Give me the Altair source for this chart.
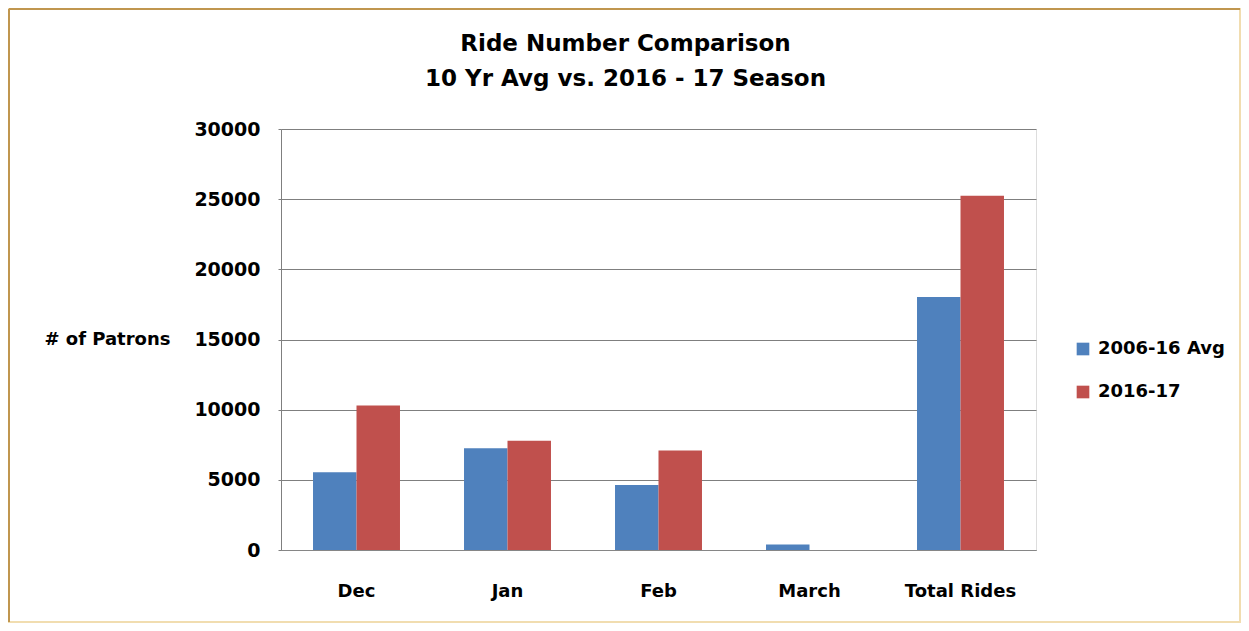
import altair as alt
import pandas as pd

categories = ["Dec", "Jan", "Feb", "March", "Total Rides"]
series_names = ["2006-16 Avg", "2016-17"]
avg_values = [5540, 7250, 4640, 400, 18020]
season_values = [10300, 7780, 7090, 0, 25250]
y_ticks = [0, 5000, 10000, 15000, 20000, 25000, 30000]
colors = ["#4f81bd", "#c0504d"]

rows = []
for c, a, s in zip(categories, avg_values, season_values):
    rows.append({"cat": c, "series": series_names[0], "value": a})
    rows.append({"cat": c, "series": series_names[1], "value": s})
df = pd.DataFrame(rows)

FONT = "DejaVu Sans"

bars = alt.Chart(df).mark_bar().encode(
    x=alt.X("cat:N", sort=categories,
            scale=alt.Scale(paddingInner=0.424, paddingOuter=0.212),
            axis=alt.Axis(title=None, labelAngle=0, ticks=False, labelPadding=32,
                          labelFont=FONT, labelFontSize=18, labelFontWeight="bold",
                          labelColor="#000000", domainColor="#868686", grid=False)),
    xOffset=alt.XOffset("series:N", sort=series_names,
                        scale=alt.Scale(paddingInner=0, paddingOuter=0)),
    y=alt.Y("value:Q", scale=alt.Scale(domain=[0, 30000], nice=False),
            axis=alt.Axis(values=y_ticks, title="# of Patrons", titleAngle=0,
                          titleAlign="right", titleBaseline="middle",
                          titleX=-111, titleY=210,
                          titleFont=FONT, titleFontSize=18, titleFontWeight="bold",
                          titleColor="#000000",
                          labelFont=FONT, labelFontSize=19, labelFontWeight="bold",
                          labelColor="#000000", labelPadding=18, tickSize=3,
                          tickColor="#7f7f7f", domainColor="#7f7f7f",
                          gridColor="#7f7f7f", gridOpacity=1, gridWidth=1.2, format="d")),
    color=alt.Color("series:N", sort=series_names,
                    scale=alt.Scale(domain=series_names, range=colors),
                    legend=alt.Legend(title=None, orient="none", legendX=793, legendY=211,
                                      symbolType="square", symbolSize=160,
                                      symbolStrokeWidth=0, rowPadding=25,
                                      labelFont=FONT, labelFontSize=18,
                                      labelFontWeight="bold", labelColor="#000000",
                                      labelOffset=6)),
)

frame = alt.Chart(alt.Data(values=[{}])).mark_rect(
    fill=None, stroke="#f1ddb0", strokeWidth=2, clip=False
).encode(x=alt.value(-272), x2=alt.value(959), y=alt.value(-120), y2=alt.value(493))

frame_lt = alt.Chart(alt.Data(values=[{}])).mark_rule(
    stroke="#c0964f", strokeWidth=2, clip=False
).encode(x=alt.value(-272), x2=alt.value(959), y=alt.value(-120))

frame_l = alt.Chart(alt.Data(values=[{}])).mark_rule(
    stroke="#c0964f", strokeWidth=2, clip=False
).encode(x=alt.value(-272), y=alt.value(-120), y2=alt.value(493))

chart = alt.layer(frame, frame_lt, frame_l, bars).properties(
    width=755, height=421,
    autosize=alt.AutoSizeParams(type="none"),
    padding={"left": 273, "top": 121, "right": 205, "bottom": 73},
    title=alt.TitleParams(text=["Ride Number Comparison", "10 Yr Avg vs. 2016 - 17 Season"],
                          font=FONT, fontSize=23, fontWeight="bold", color="#000000",
                          lineHeight=35, anchor="middle", frame="group", dx=-33, offset=-83),
).configure_view(stroke=None).configure(background="#ffffff")

chart.save("out.html", embed_options={"renderer": "svg", "actions": False})
